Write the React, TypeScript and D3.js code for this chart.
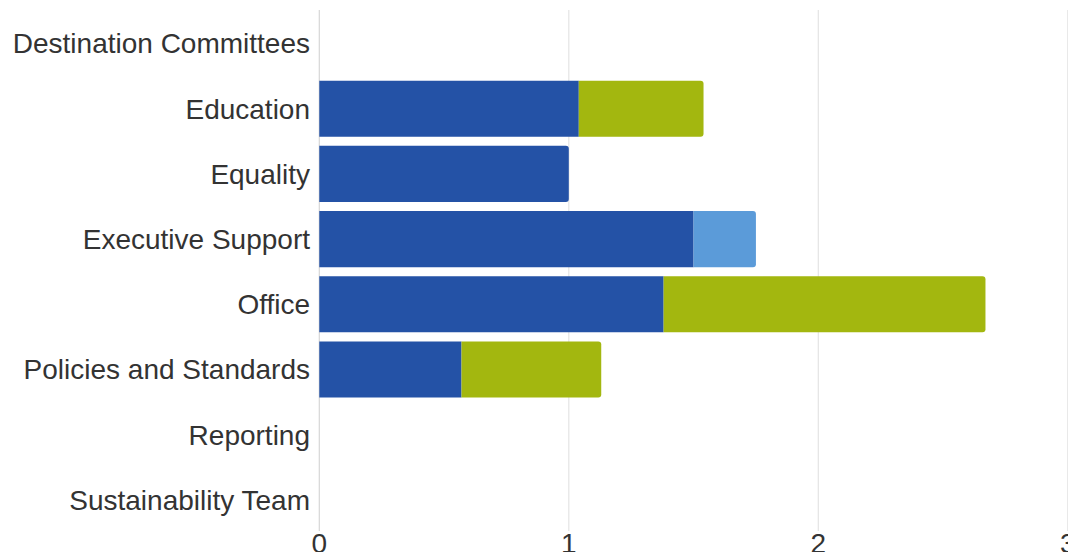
import React from "react";
import * as d3 from "d3";

const categories = [
  "Destination Committees",
  "Education",
  "Equality",
  "Executive Support",
  "Office",
  "Policies and Standards",
  "Reporting",
  "Sustainability Team",
];

const seriesNames = ["Series A", "Series B", "Series C"];
const seriesA = [0, 1.04, 1.0, 1.5, 1.38, 0.57, 0, 0];
const seriesB = [0, 0.5, 0, 0, 1.29, 0.56, 0, 0];
const seriesC = [0, 0, 0, 0.25, 0, 0, 0, 0];
const seriesColors = ["#2452a6", "#a3b70f", "#5b9bd9"];
const xTicks = [0, 1, 2, 3];

const W = 1068;
const H = 552;
const FONT = "'Liberation Sans', Arial, sans-serif";

function barPath(x0: number, x1: number, y: number, h: number, r: number, roundRight: boolean) {
  const w = x1 - x0;
  if (!roundRight || w < 2 * r) {
    return `M${x0},${y}H${x1}V${y + h}H${x0}Z`;
  }
  return `M${x0},${y}H${x1 - r}Q${x1},${y} ${x1},${y + r}V${y + h - r}Q${x1},${y + h} ${x1 - r},${y + h}H${x0}Z`;
}

export default function App() {
  const x = d3.scaleLinear().domain([0, 3]).range([319.3, 1067.8]);
  const y = d3.scaleBand<string>().domain(categories).range([10.9, 532.5]).paddingInner(0.14).paddingOuter(0.07);

  const rows = categories.map((c, i) => ({
    cat: c,
    values: [seriesA[i], seriesB[i], seriesC[i]],
  }));

  return (
    <svg
      width={W}
      height={H}
      style={{ position: "absolute", left: 0, top: 0, background: "#fff" }}
      fontFamily={FONT}
    >
      {/* vertical grid lines */}
      {xTicks.map((t) => (
        <line
          key={t}
          x1={x(t)}
          x2={x(t)}
          y1={10}
          y2={531}
          stroke={t === 0 ? "#d6d6d6" : "#e4e4e4"}
          strokeWidth={1.2}
        />
      ))}

      {/* stacked bars */}
      {rows.map((row) => {
        const yy = y(row.cat)!;
        const h = y.bandwidth();
        let acc = 0;
        let lastIdx = -1;
        row.values.forEach((v, k) => {
          if (v > 0) lastIdx = k;
        });
        return (
          <g key={row.cat}>
            {row.values.map((v, k) => {
              if (v <= 0) return null;
              const x0 = x(acc);
              acc += v;
              const x1 = x(acc);
              return (
                <path
                  key={seriesNames[k]}
                  d={barPath(x0, x1, yy, h, 3, k === lastIdx)}
                  fill={seriesColors[k]}
                />
              );
            })}
          </g>
        );
      })}

      {/* category labels */}
      {categories.map((c) => (
        <text
          key={c}
          x={310}
          y={y(c)! + y.bandwidth() / 2}
          dy="0.35em"
          textAnchor="end"
          fontSize={28}
          fill="#333"
        >
          {c}
        </text>
      ))}

      {/* x tick labels */}
      {xTicks.map((t) => (
        <text key={t} x={x(t)} y={553} textAnchor="middle" fontSize={28} fill="#333">
          {t}
        </text>
      ))}
    </svg>
  );
}
